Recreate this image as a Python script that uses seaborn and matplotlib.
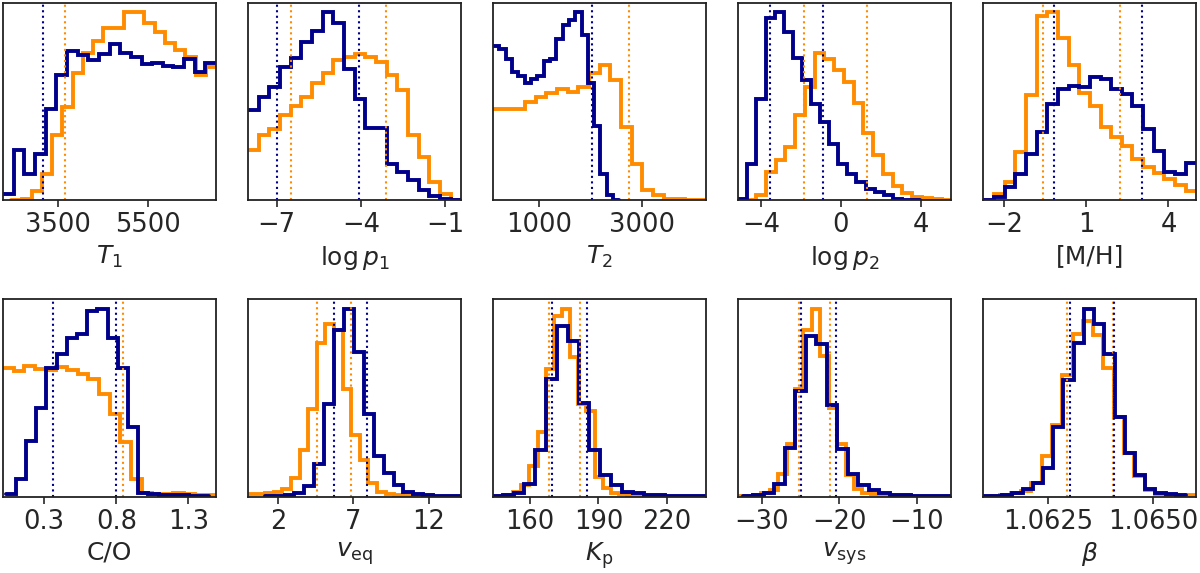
import numpy as np
import pandas as pd
import matplotlib
matplotlib.use("Agg")
import matplotlib.pyplot as plt
import seaborn as sns

NAVY = "#00008b"
ORANGE = "#ff8c00"

# ---- T1 ----
t1_navy = [20, 150, 78, 138, 275, 375, 448, 435, 420, 438, 467, 440, 430, 408, 412, 402, 398, 422, 385, 412]
t1_orange = [2, 5, 27, 78, 195, 280, 382, 442, 478, 515, 515, 563, 563, 530, 505, 472, 450, 430, 375, 400]
t1_navy_range = (2270, 7030)
t1_orange_range = (2455, 7030)
t1_navy_lines = [3165]
t1_orange_lines = [3650]
t1_xlim = (2270, 7030)
t1_ticks = [3500, 5500]
t1_labels = ["3500", "5500"]

# ---- log p1 ----
p1_navy = [270, 310, 338, 398, 425, 475, 508, 563, 530, 392, 302, 218, 218, 110, 85, 60, 32, 12, 5, 2]
p1_orange = [152, 195, 215, 255, 282, 308, 352, 380, 420, 430, 438, 428, 415, 375, 330, 195, 130, 55, 18, 2]
p1_navy_range = (-8.01, -0.44)
p1_orange_range = (-8.01, -0.44)
p1_navy_lines = [-6.98, -4.08]
p1_orange_lines = [-6.50, -3.12]
p1_xlim = (-8.01, -0.44)
p1_ticks = [-7, -4, -1]
p1_labels = ["\u22127", "\u22124", "\u22121"]

# ---- T2 ----
t2_navy = [460, 452, 422, 385, 372, 350, 362, 372, 415, 422, 482, 525, 540, 562, 495, 350, 222, 78, 15, 2]
t2_orange = [272, 272, 272, 295, 310, 322, 332, 325, 338, 382, 405, 360, 218, 110, 32, 15, 5, 4, 2, 1]
t2_navy_range = (110, 2565)
t2_orange_range = (110, 4253)
t2_navy_lines = [2026]
t2_orange_lines = [2753]
t2_xlim = (110, 4253)
t2_ticks = [1000, 3000]
t2_labels = ["1000", "3000"]

# ---- log p2 ----
p2_navy = [5, 108, 302, 545, 562, 502, 425, 360, 288, 235, 168, 108, 78, 55, 35, 25, 15, 3, 2, 1]
p2_orange = [2, 15, 85, 122, 160, 255, 338, 440, 422, 390, 355, 290, 200, 135, 80, 42, 22, 10, 8, 4, 2]
p2_navy_range = (-5.13, 3.97)
p2_orange_range = (-4.73, 5.53)
p2_navy_lines = [-3.53, -0.87]
p2_orange_lines = [-1.83, 1.33]
p2_xlim = (-5.13, 5.53)
p2_ticks = [-4, 0, 4]
p2_labels = ["\u22124", "0", "4"]

# ---- [M/H] ----
mh_navy = [2, 10, 40, 80, 138, 205, 288, 332, 342, 338, 368, 362, 332, 318, 282, 212, 148, 85, 80, 112]
mh_orange = [2, 20, 55, 145, 315, 552, 562, 485, 405, 320, 282, 220, 190, 162, 125, 100, 82, 65, 45, 28]
mh_navy_range = (-2.77, 5.02)
mh_orange_range = (-2.77, 5.02)
mh_navy_lines = [-0.17, 3.03]
mh_orange_lines = [-0.59, 2.22]
mh_xlim = (-2.77, 5.02)
mh_ticks = [-2, 1, 4]
mh_labels = ["\u22122", "1", "4"]

# ---- C/O ----
co_navy = [8, 55, 168, 268, 388, 432, 480, 492, 562, 568, 478, 388, 212, 12, 8, 6, 5, 4, 3, 2]
co_orange = [388, 380, 395, 385, 382, 392, 382, 370, 355, 310, 250, 165, 55, 10, 8, 8, 10, 8, 6, 6]
co_navy_range = (0.034, 1.446)
co_orange_range = (0.015, 1.492)
co_navy_lines = [0.3625, 0.80]
co_orange_lines = [0.844]
co_xlim = (0.015, 1.492)
co_ticks = [0.3, 0.8, 1.3]
co_labels = ["0.3", "0.8", "1.3"]

# ---- v_eq ----
veq_navy = [1, 3, 5, 10, 32, 98, 278, 502, 565, 435, 248, 122, 70, 35, 15, 8, 5, 3, 2, 1]
veq_orange = [7, 9, 12, 15, 22, 55, 140, 265, 462, 520, 502, 325, 185, 110, 40, 15, 8, 5, 3, 2]
veq_navy_range = (1.11, 14.27)
veq_orange_range = (0.0, 11.42)
veq_navy_lines = [5.71, 7.93]
veq_orange_lines = [4.56, 6.84]
veq_xlim = (0.0, 14.16)
veq_ticks = [2, 7, 12]
veq_labels = ["2", "7", "12"]

# ---- K_p ----
kp_navy = [2, 4, 10, 38, 138, 350, 505, 462, 278, 138, 65, 35, 15, 10, 5, 4, 3, 2, 1, 1]
kp_orange = [2, 5, 15, 35, 90, 192, 378, 535, 558, 415, 275, 255, 60, 25, 12, 8, 5, 3, 2, 1]
kp_navy_range = (143.5, 238.2)
kp_orange_range = (145.6, 216.9)
kp_navy_lines = [169.8, 185.0]
kp_orange_lines = [168.3, 182.1]
kp_xlim = (144.0, 237.2)
kp_ticks = [160, 190, 220]
kp_labels = ["160", "190", "220"]

# ---- v_sys ----
vs_navy = [1, 4, 10, 40, 148, 320, 485, 462, 278, 145, 68, 35, 20, 10, 6, 4, 3, 2, 1, 1]
vs_orange = [1, 2, 4, 10, 22, 70, 158, 325, 502, 568, 425, 268, 158, 65, 25, 12, 8, 5, 3, 2]
vs_navy_range = (-32.40, -5.37)
vs_orange_range = (-33.28, -11.57)
vs_navy_lines = [-24.85, -20.43]
vs_orange_lines = [-25.15, -21.2]
vs_xlim = (-33.0, -5.54)
vs_ticks = [-30, -20, -10]
vs_labels = ["\u221230", "\u221220", "\u221210"]

# ---- beta ----
b_navy = [2, 3, 5, 10, 22, 42, 85, 210, 352, 462, 565, 518, 430, 240, 130, 65, 22, 12, 8, 4]
b_orange = [2, 4, 10, 18, 42, 122, 215, 365, 490, 528, 485, 388, 240, 130, 62, 20, 8, 5, 3, 4]
b_navy_range = (1.060926, 1.065783)
b_orange_range = (1.061123, 1.066029)
b_navy_lines = [1.063022, 1.064082]
b_orange_lines = [1.062943, 1.064050]
b_xlim = (1.060965, 1.066029)
b_ticks = [1.0625, 1.0650]
b_labels = ["1.0625", "1.0650"]

panels = [
    ("$T_1$", t1_xlim, t1_ticks, t1_labels, t1_navy, t1_navy_range, t1_orange, t1_orange_range, t1_navy_lines, t1_orange_lines),
    ("$\\log p_1$", p1_xlim, p1_ticks, p1_labels, p1_navy, p1_navy_range, p1_orange, p1_orange_range, p1_navy_lines, p1_orange_lines),
    ("$T_2$", t2_xlim, t2_ticks, t2_labels, t2_navy, t2_navy_range, t2_orange, t2_orange_range, t2_navy_lines, t2_orange_lines),
    ("$\\log p_2$", p2_xlim, p2_ticks, p2_labels, p2_navy, p2_navy_range, p2_orange, p2_orange_range, p2_navy_lines, p2_orange_lines),
    ("[M/H]", mh_xlim, mh_ticks, mh_labels, mh_navy, mh_navy_range, mh_orange, mh_orange_range, mh_navy_lines, mh_orange_lines),
    ("C/O", co_xlim, co_ticks, co_labels, co_navy, co_navy_range, co_orange, co_orange_range, co_navy_lines, co_orange_lines),
    ("$v_{\\rm eq}$", veq_xlim, veq_ticks, veq_labels, veq_navy, veq_navy_range, veq_orange, veq_orange_range, veq_navy_lines, veq_orange_lines),
    ("$K_{\\rm p}$", kp_xlim, kp_ticks, kp_labels, kp_navy, kp_navy_range, kp_orange, kp_orange_range, kp_navy_lines, kp_orange_lines),
    ("$v_{\\rm sys}$", vs_xlim, vs_ticks, vs_labels, vs_navy, vs_navy_range, vs_orange, vs_orange_range, vs_navy_lines, vs_orange_lines),
    ("$\\beta$", b_xlim, b_ticks, b_labels, b_navy, b_navy_range, b_orange, b_orange_range, b_navy_lines, b_orange_lines),
]

sns.set_style("ticks")
plt.rcParams["font.family"] = ["DejaVu Sans"]
plt.rcParams["axes.edgecolor"] = "#222222"
plt.rcParams["axes.linewidth"] = 1.3
plt.rcParams["lines.solid_joinstyle"] = "miter"

fig, axes = plt.subplots(2, 5, figsize=(12, 5.73))
fig.subplots_adjust(left=0.0025, right=0.997, top=0.995, bottom=0.133, wspace=0.15, hspace=0.5)

for ax, (label, xlim, ticks, tlabels, navy, navy_rng, orange, orange_rng, nlines, olines) in zip(axes.flat, panels):
    for heights, rng, color in [(orange, orange_rng, ORANGE), (navy, navy_rng, NAVY)]:
        edges = np.linspace(rng[0], rng[1], len(heights) + 1)
        df = pd.DataFrame({"x": (edges[:-1] + edges[1:]) / 2, "w": np.asarray(heights, dtype=float)})
        sns.histplot(data=df, x="x", weights="w", bins=len(heights), binrange=rng,
                     element="step", fill=False, color=color, linewidth=2.8, ax=ax)
    for v in olines:
        ax.axvline(v, color=ORANGE, ls=":", lw=1.5)
    for v in nlines:
        ax.axvline(v, color=NAVY, ls=":", lw=1.5)
    ax.set_xlim(xlim)
    ax.set_ylim(bottom=0)
    ax.set_xticks(ticks)
    ax.set_xticklabels(tlabels, fontsize=18.5)
    ax.set_yticks([])
    ax.set_ylabel("")
    ax.set_xlabel(label, fontsize=18)
    ax.tick_params(axis="x", length=5, width=1.2)

fig.savefig("out.png", dpi=100)
